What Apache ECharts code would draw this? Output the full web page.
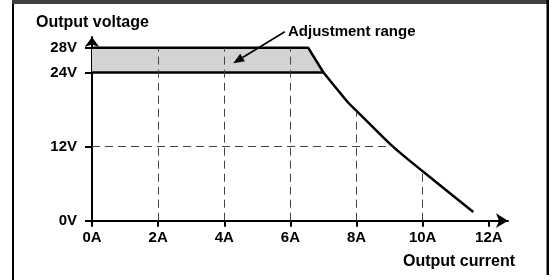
<!DOCTYPE html>
<html><head><meta charset="utf-8">
<script src="https://cdn.jsdelivr.net/npm/echarts@6/dist/echarts.min.js"></script>
<style>html,body{margin:0;padding:0;background:#fff}#c{width:552px;height:280px}</style>
</head><body><div id="c"></div>
<script>
// ---- data ----
const xTicks = [0, 2, 4, 6, 8, 10, 12];          // A
const yTicks = [0, 12, 24, 28];                   // V
const adjustTop = [[0, 28], [6.54, 28], [7.0, 24]];   // upper limit of adjustment range
const baseLine = [[0, 24], [7.0, 24]];                 // nominal 24V
const derating = [[7.0, 24], [7.75, 19.1], [8.0, 17.8], [9.1, 12.0], [10.0, 8.0], [11.53, 1.4]];
const vGridX = [2, 4, 6, 8, 10];
const vGridTop = [28, 28, 28, 17.8, 8.0];
const hGridY = [12];
const hGridEnd = [9.1];
const arrowFrom = [5.83, 30.6];
const arrowTo = [4.27, 25.5];
const xName = 'Output current';
const yName = 'Output voltage';
const noteText = 'Adjustment range';

const FONT = "'Liberation Sans', Arial, sans-serif";
const chart = echarts.init(document.getElementById('c'), null, {renderer: 'canvas'});

const gridLines = [];
vGridX.forEach((x, i) => gridLines.push([{coord: [x, 0]}, {coord: [x, vGridTop[i]]}]));
hGridY.forEach((y, i) => gridLines.push([{coord: [0, y]}, {coord: [hGridEnd[i], y]}]));

const labelStyle = {color: '#000', fontFamily: FONT, fontWeight: 'bold', fontSize: 15};

function renderArrow(params, api) {
  const p1 = api.coord([api.value(0), api.value(1)]);
  const p2 = api.coord([api.value(2), api.value(3)]);
  const dx = p2[0] - p1[0], dy = p2[1] - p1[1];
  const len = Math.sqrt(dx * dx + dy * dy);
  const ux = dx / len, uy = dy / len;
  const headL = 11, headW = 4.5;
  const bx = p2[0] - ux * headL, by = p2[1] - uy * headL;
  return {
    type: 'group',
    children: [
      {type: 'line', shape: {x1: p1[0], y1: p1[1], x2: bx, y2: by}, style: {stroke: '#000', lineWidth: 1.5}},
      {type: 'polygon', shape: {points: [[p2[0], p2[1]], [bx - uy * headW, by + ux * headW], [bx + uy * headW, by - ux * headW]]}, style: {fill: '#000'}}
    ]
  };
}

chart.setOption({
  animation: false,
  backgroundColor: '#fff',
  grid: {left: 92, right: 44, top: 37, bottom: 59.3, containLabel: false},
  xAxis: {
    type: 'value', min: 0, max: 12.58,
    axisLine: {show: true, lineStyle: {color: '#000', width: 2}, symbol: ['none', 'arrow'], symbolSize: [11, 12]},
    axisTick: {show: true, length: 6, lineStyle: {color: '#000', width: 2}, customValues: xTicks},
    axisLabel: Object.assign({margin: 10, customValues: xTicks, formatter: v => v + 'A'}, labelStyle),
    splitLine: {show: false}
  },
  yAxis: {
    type: 'value', min: 0, max: 29.75,
    axisLine: {show: true, lineStyle: {color: '#000', width: 2}, symbol: ['none', 'arrow'], symbolSize: [11, 10]},
    axisTick: {show: true, length: 7, lineStyle: {color: '#000', width: 2}, customValues: yTicks},
    axisLabel: Object.assign({margin: 15, customValues: yTicks, formatter: v => v + 'V'}, labelStyle),
    splitLine: {show: false}
  },
  graphic: [
    {type: 'rect', shape: {x: 12, y: 0, width: 537, height: 4}, style: {fill: '#404040'}, silent: true},
    {type: 'rect', shape: {x: 12, y: 4, width: 2, height: 276}, style: {fill: '#000'}, silent: true},
    {type: 'rect', shape: {x: 546.5, y: 0, width: 2.5, height: 275}, style: {fill: '#000'}, silent: true},
    {type: 'text', left: 36, top: 15, style: {text: yName, font: 'bold 16px ' + FONT, fill: '#000'}},
    {type: 'text', left: 403, top: 254, style: {text: xName, font: 'bold 16px ' + FONT, fill: '#000'}},
    {type: 'text', left: 288, top: 24, style: {text: noteText, font: 'bold 15px ' + FONT, fill: '#000'}}
  ],
  series: [
    {
      type: 'line', data: [], z: 2, silent: true, clip: false,
      markLine: {
        silent: true, symbol: ['none', 'none'], animation: false,
        label: {show: false},
        lineStyle: {color: '#444', width: 1, type: [8, 5]},
        emphasis: {disabled: true},
        data: gridLines
      }
    },
    {
      type: 'line', data: adjustTop, z: 3, symbol: 'none', silent: true,
      lineStyle: {color: '#000', width: 2.5},
      areaStyle: {color: '#d3d3d3', opacity: 1, origin: 24}
    },
    {
      type: 'line', data: baseLine, z: 4, symbol: 'none', silent: true,
      lineStyle: {color: '#000', width: 2.5}
    },
    {
      type: 'line', data: derating, z: 4, symbol: 'none', silent: true, smooth: 0.2,
      lineStyle: {color: '#000', width: 2.5}
    },
    {
      type: 'custom', z: 5, silent: true, clip: false,
      renderItem: renderArrow,
      data: [[arrowFrom[0], arrowFrom[1], arrowTo[0], arrowTo[1]]]
    }
  ]
});
</script></body></html>
